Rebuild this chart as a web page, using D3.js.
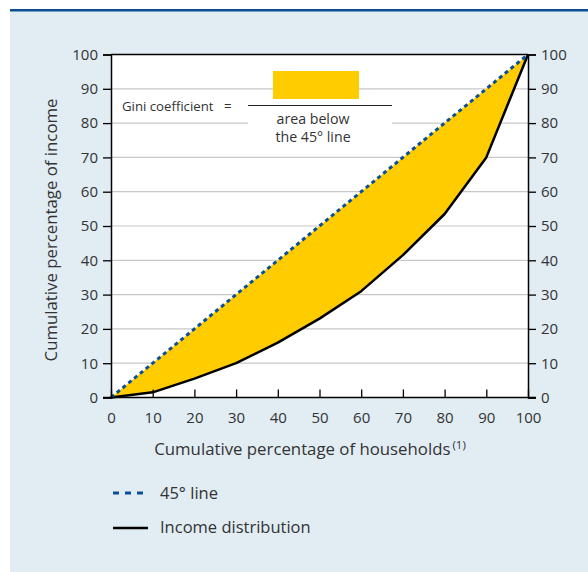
<!DOCTYPE html>
<html>
<head>
<meta charset="utf-8">
<script src="https://cdn.jsdelivr.net/npm/d3@7"></script>
<style>
  body { margin: 0; background: #fff; }
  svg { display: block; font-family: "Open Sans", "Noto Sans", sans-serif; }
</style>
</head>
<body>
<script>
// chart data
const households = [0, 10, 20, 30, 40, 50, 60, 70, 80, 90, 100];
const incomeShare = [0, 1.5, 5.5, 10, 16, 23, 31, 41.5, 53.5, 70, 100];
const equalityLine = [0, 10, 20, 30, 40, 50, 60, 70, 80, 90, 100];
const xTicks = [0, 10, 20, 30, 40, 50, 60, 70, 80, 90, 100];
const yTicks = [0, 10, 20, 30, 40, 50, 60, 70, 80, 90, 100];

const width = 588, height = 572;
const plotLeft = 111, plotRight = 528, plotTop = 54.5, plotBottom = 397.5;
const yellow = "#ffcc00", blue = "#0b4f97";
const textColor = "#333";

var svg = d3.select("body").append("svg")
    .attr("width", width)
    .attr("height", height);

// panel background + top rule
svg.append("rect").attr("x", 10).attr("y", 10).attr("width", width - 10).attr("height", height - 10).attr("fill", "#e1ecf3");
svg.append("rect").attr("x", 10).attr("y", 9).attr("width", width - 10).attr("height", 2.5).attr("fill", "#0b4f94");

var x = d3.scaleLinear().domain([0, 100]).range([plotLeft, plotRight]);
var y = d3.scaleLinear().domain([0, 100]).range([plotBottom, plotTop]);

// plot background
svg.append("rect").attr("x", plotLeft).attr("y", plotTop).attr("width", plotRight - plotLeft).attr("height", plotBottom - plotTop).attr("fill", "#fff");

// gridlines
svg.append("g").selectAll("line")
    .data(yTicks.filter(d => d > 0 && d < 100))
    .enter().append("line")
    .attr("x1", plotLeft).attr("x2", plotRight)
    .attr("y1", d => y(d)).attr("y2", d => y(d))
    .attr("stroke", "#c8c8c8").attr("stroke-width", 1.2);

// area between the 45 degree line and the income curve
var pts = households.map((h, i) => ({ h: h, eq: equalityLine[i], inc: incomeShare[i] }));
svg.append("path")
    .datum(pts)
    .attr("fill", yellow)
    .attr("d", d3.area().x(d => x(d.h)).y0(d => y(d.inc)).y1(d => y(d.eq)));

// gini annotation
var box = svg.append("g");
box.append("rect").attr("x", 248).attr("y", 109).attr("width", 144).attr("height", 40).attr("fill", "#fff");
box.append("rect").attr("x", 273).attr("y", 71).attr("width", 86).attr("height", 28).attr("fill", yellow);
box.append("line").attr("x1", 248).attr("x2", 392).attr("y1", 105.5).attr("y2", 105.5).attr("stroke", "#222").attr("stroke-width", 1.2);
box.append("text").attr("x", 122).attr("y", 110.5).attr("font-size", 13.2).attr("fill", textColor).text("Gini coefficient");
box.append("text").attr("x", 224).attr("y", 110.5).attr("font-size", 13.2).attr("fill", textColor).text("=");
box.append("text").attr("x", 313).attr("y", 124).attr("font-size", 14.2).attr("fill", textColor).attr("text-anchor", "middle").text("area below");
box.append("text").attr("x", 313).attr("y", 142).attr("font-size", 14.2).attr("fill", textColor).attr("text-anchor", "middle").text("the 45° line");

// lines
svg.append("path")
    .datum(pts)
    .attr("fill", "none").attr("stroke", "#000").attr("stroke-width", 2.5)
    .attr("stroke-linejoin", "round")
    .attr("d", d3.line().x(d => x(d.h)).y(d => y(d.inc)));
svg.append("path")
    .datum(pts)
    .attr("fill", "none").attr("stroke", blue).attr("stroke-width", 3)
    .attr("stroke-dasharray", "4,3.5")
    .attr("d", d3.line().x(d => x(d.h)).y(d => y(d.eq)));

// frame top
svg.append("line").attr("x1", plotLeft).attr("x2", plotRight).attr("y1", plotTop).attr("y2", plotTop).attr("stroke", "#000").attr("stroke-width", 1.5);

// axes
var xAxis = svg.append("g").attr("transform", "translate(0," + plotBottom + ")")
    .call(d3.axisBottom(x).tickValues(xTicks).tickSize(-8).tickPadding(15));
var yAxisL = svg.append("g").attr("transform", "translate(" + plotLeft + ",0)")
    .call(d3.axisLeft(y).tickValues(yTicks).tickSize(8).tickPadding(5));
var yAxisR = svg.append("g").attr("transform", "translate(" + plotRight + ",0)")
    .call(d3.axisRight(y).tickValues(yTicks).tickSize(8).tickPadding(5));

[xAxis, yAxisL, yAxisR].forEach(g => {
    g.select(".domain").attr("stroke", "#000").attr("stroke-width", 1.5);
    g.selectAll(".tick line").attr("stroke", "#000").attr("stroke-width", 1.3);
    g.selectAll("text").attr("font-size", 15).attr("fill", textColor)
        .style("font-family", "'Open Sans', 'Noto Sans', sans-serif");
});
xAxis.select(".domain").attr("d", "M" + (plotLeft - 8) + ",0H" + (plotRight + 8));

// axis titles
var xt = svg.append("text").attr("x", 310).attr("y", 455).attr("text-anchor", "middle")
    .attr("font-size", 16.8).attr("fill", textColor);
xt.append("tspan").text("Cumulative percentage of households");
xt.append("tspan").attr("font-size", 11.5).attr("dx", 2).attr("dy", -6).text("(1)");

svg.append("text")
    .attr("transform", "translate(57,230) rotate(-90)")
    .attr("text-anchor", "middle").attr("font-size", 16.8).attr("fill", textColor)
    .text("Cumulative percentage of income");

// legend
var legend = svg.append("g");
legend.append("line").attr("x1", 113).attr("x2", 144).attr("y1", 493).attr("y2", 493)
    .attr("stroke", blue).attr("stroke-width", 3).attr("stroke-dasharray", "6,6");
legend.append("text").attr("x", 160).attr("y", 499).attr("font-size", 16.5).attr("fill", textColor).text("45° line");
legend.append("line").attr("x1", 113).attr("x2", 148).attr("y1", 528).attr("y2", 528)
    .attr("stroke", "#000").attr("stroke-width", 2.5);
legend.append("text").attr("x", 160).attr("y", 533).attr("font-size", 16.5).attr("fill", textColor).text("Income distribution");
</script>
</body>
</html>
